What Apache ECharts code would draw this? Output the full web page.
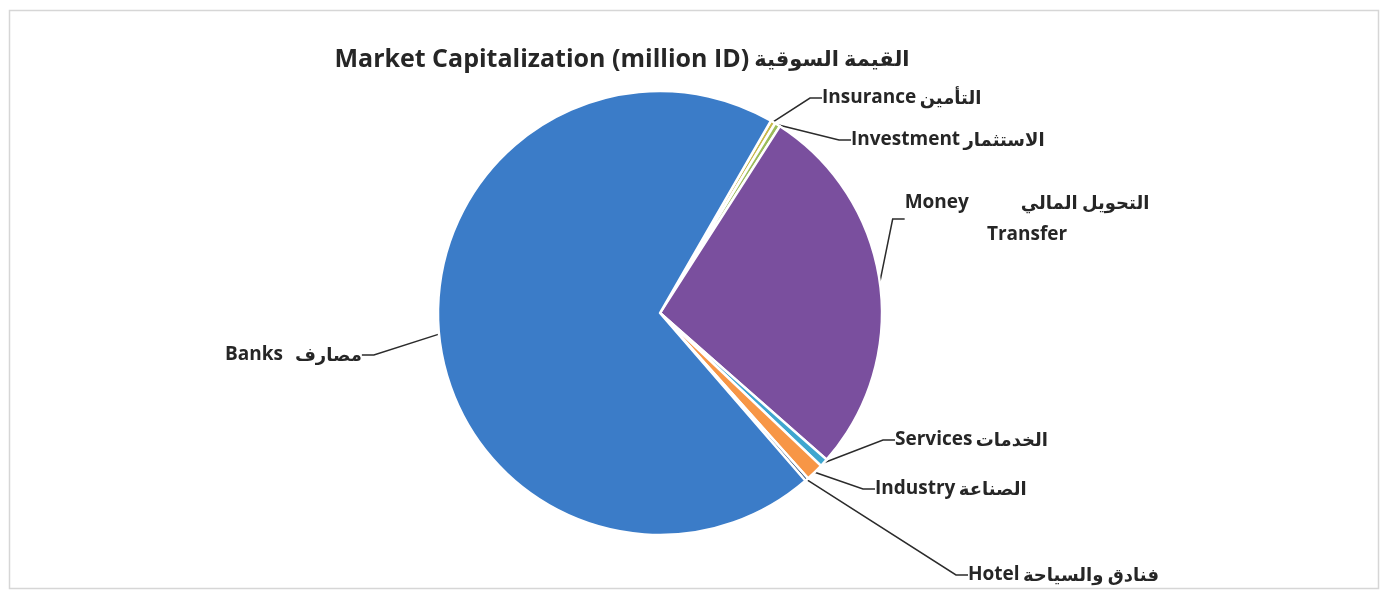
<!DOCTYPE html>
<html>
<head>
<meta charset="utf-8">
<script src="https://cdn.jsdelivr.net/npm/echarts@6/dist/echarts.min.js"></script>
<style>
  html, body { margin: 0; padding: 0; background: #fff; }
  #chart { width: 1386px; height: 594px; }
</style>
</head>
<body>
<div id="chart"></div>
<script>
// sectors, clockwise from the top-right
const categories = ['Insurance', 'Investment', 'Money Transfer', 'Services', 'Industry', 'Hotel', 'Banks']
const arabicNames = ['التأمين', 'الاستثمار', 'التحويل المالي', 'الخدمات', 'الصناعة', 'فنادق والسياحة', 'مصارف']
const values = [0.35, 0.4, 27.4, 0.6, 1.3, 0.25, 69.7] // share of market cap (%)
const colors = ['#c8b84a', '#9bbb59', '#7a4f9e', '#3fa6cf', '#f79646', '#2c4d75', '#3b7cc8']

// label anchor (left edge / middle) for each slice
const labelPos = [
  [822, 98], [851, 140], [1027, 219], [895, 440], [875, 489], [968, 575], [225, 355]
]

const chart = echarts.init(document.getElementById('chart'))

const enFont = '"Open Sans", sans-serif'
const arFont = 'Lato, "DejaVu Sans", sans-serif'

const option = {
  title: {
    text: '{en|Market Capitalization (million ID)} {ar|القيمة السوقية}',
    left: 617,
    top: 42,
    textAlign: 'center',
    textStyle: {
      rich: {
        en: { fontFamily: enFont, fontSize: 25, fontWeight: 'bold', color: '#262626' },
        ar: { fontFamily: arFont, fontSize: 21, fontWeight: 'bold', color: '#262626' }
      }
    }
  },
  graphic: [
    {
      type: 'rect',
      shape: { x: 9.5, y: 10.5, width: 1369, height: 578 },
      style: { fill: 'none', stroke: '#d6d6d6', lineWidth: 1.5 },
      silent: true
    }
  ],
  series: [
    {
      type: 'pie',
      center: [660, 313],
      radius: 222,
      startAngle: 60,
      clockwise: true,
      avoidLabelOverlap: false,
      itemStyle: { borderColor: '#fff', borderWidth: 2.5 },
      label: {
        show: true,
        color: '#262626',
        formatter: function (p) {
          const i = p.dataIndex
          if (categories[i] === 'Money Transfer') {
            return '{en|Money}{gap|}{ar|' + arabicNames[i] + '}\n{en|Transfer}'
          }
          const sep = categories[i] === 'Banks' ? '{sp|}' : ' '
          return '{en|' + categories[i] + '}' + sep + '{ar|' + arabicNames[i] + '}'
        },
        rich: {
          en: { fontFamily: enFont, fontSize: 19, fontWeight: 'bold', color: '#262626', lineHeight: 32 },
          ar: { fontFamily: arFont, fontSize: 18, fontWeight: 'bold', color: '#262626', lineHeight: 32 },
          gap: { width: 52 },
          sp: { width: 12 }
        }
      },
      labelLine: {
        show: true,
        length: 10,
        length2: 12,
        lineStyle: { color: '#2b2b2b', width: 1.5 }
      },
      labelLayout: function (p) {
        const pos = labelPos[p.dataIndex]
        const centred = categories[p.dataIndex] === 'Money Transfer'
        return {
          x: pos[0],
          y: pos[1],
          align: centred ? 'center' : 'left',
          verticalAlign: 'middle',
          moveOverlap: null
        }
      },
      emphasis: { disabled: true },
      data: categories.map(function (name, i) {
        return { name: name, value: values[i], itemStyle: { color: colors[i] } }
      })
    }
  ]
}

chart.setOption(option)
</script>
</body>
</html>
